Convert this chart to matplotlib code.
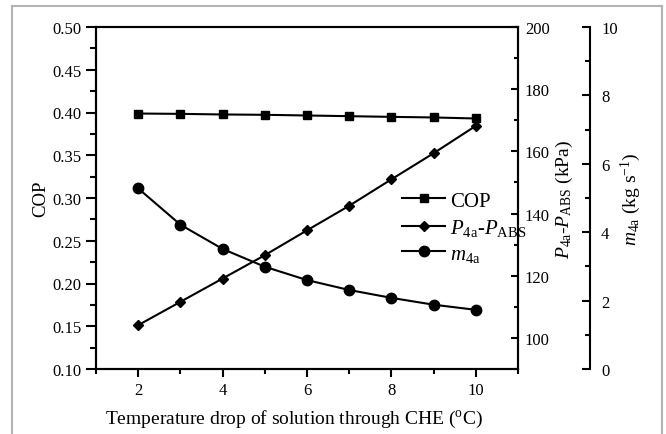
import matplotlib
matplotlib.use('Agg')
import matplotlib.pyplot as plt
from matplotlib.lines import Line2D
from matplotlib.ticker import MultipleLocator, FormatStrFormatter

plt.rcParams['font.family'] = ['Liberation Serif', 'DejaVu Serif']
plt.rcParams['mathtext.fontset'] = 'custom'
plt.rcParams['mathtext.rm'] = 'Liberation Serif'
plt.rcParams['mathtext.it'] = 'Liberation Serif:italic'
plt.rcParams['font.size'] = 12

# dane
temp_drop = [2, 3, 4, 5, 6, 7, 8, 9, 10]
cop = [0.3988, 0.3984, 0.3977, 0.3973, 0.3965, 0.3957, 0.3949, 0.3942, 0.3930]
dp = [104.1, 111.6, 119.1, 126.6, 134.6, 142.5, 151.0, 159.4, 168.2]
m4a = [5.28, 4.22, 3.51, 2.99, 2.60, 2.31, 2.08, 1.88, 1.73]

fig = plt.figure(figsize=(6.66, 4.35), dpi=100)
ax = fig.add_axes([96/666, 1-370/435, 422/666, 342/435])
ax2 = ax.twinx()
ax3 = ax.twinx()
ax3.spines['right'].set_position(('axes', (590-96)/422))

lw = 1.5
l1, = ax.plot(temp_drop, cop, 'k-', marker='s', ms=6, lw=lw, label='COP')
l2, = ax2.plot(temp_drop, dp, 'k-', marker='D', ms=5.5, lw=lw,
               label=r'$P_{\rm 4a}$-$P_{\rm ABS}$')
l3, = ax3.plot(temp_drop, m4a, 'k-', marker='o', ms=7.5, lw=lw,
               label=r'$m_{\rm 4a}$')

ax.set_xlim(1, 11)
ax.set_ylim(0.10, 0.50)
ax2.set_ylim(90, 200)
ax3.set_ylim(0, 10)

ax.xaxis.set_major_locator(MultipleLocator(2))
ax.xaxis.set_minor_locator(MultipleLocator(1))
ax.yaxis.set_major_locator(MultipleLocator(0.05))
ax.yaxis.set_minor_locator(MultipleLocator(0.025))
ax.yaxis.set_major_formatter(FormatStrFormatter('%.2f'))
ax2.yaxis.set_major_locator(MultipleLocator(20))
ax2.yaxis.set_minor_locator(MultipleLocator(10))
ax3.yaxis.set_major_locator(MultipleLocator(2))
ax3.yaxis.set_minor_locator(MultipleLocator(1))

for a in (ax, ax2, ax3):
    for s in a.spines.values():
        s.set_linewidth(1.5)

ax.tick_params(axis='x', which='major', direction='out', length=6, width=1.5, top=False)
ax.tick_params(axis='x', which='minor', direction='out', length=3.5, width=1.5, top=False)
ax.tick_params(axis='y', which='major', direction='out', length=7, width=1.5, right=False)
ax.tick_params(axis='y', which='minor', direction='out', length=4, width=1.5, right=False)
ax2.tick_params(axis='y', which='major', direction='in', length=5, width=1.5, pad=5)
ax2.tick_params(axis='y', which='minor', direction='in', length=3, width=1.5)
ax3.tick_params(axis='y', which='major', direction='in', length=6, width=1.5, pad=8)
ax3.tick_params(axis='y', which='minor', direction='in', length=3.5, width=1.5)

ax3.spines['top'].set_visible(False)
ax3.spines['bottom'].set_visible(False)
ax3.spines['left'].set_visible(False)

ax.set_xlabel(r'Temperature drop of solution through CHE ($^{\rm o}$C)', fontsize=14)
ax.xaxis.set_label_coords(0.47, -0.115)
ax.set_ylabel('COP', fontsize=13.5, labelpad=2)
ax2.set_ylabel(r'$P_{\rm 4a}$-$P_{\rm ABS}$ (kPa)', fontsize=14, labelpad=3)
ax3.set_ylabel(r'$m_{\rm 4a}$ (kg s$^{-1}$)', fontsize=14, labelpad=1)

ax.legend(handles=[l1, l2, l3], loc='upper left', bbox_to_anchor=(0.68, 0.575),
          frameon=False, fontsize=15, handlelength=2.1, handletextpad=0.2,
          labelspacing=0.3)

# szara ramka
c = '#b4b4b4'
fig.add_artist(Line2D([12/666, 12/666], [0, 1-7/435], color=c, lw=1.5))
fig.add_artist(Line2D([662/666, 662/666], [0, 1-7/435], color=c, lw=1.5))
fig.add_artist(Line2D([12/666, 662/666], [1-7/435, 1-7/435], color=c, lw=1.5))

fig.savefig('out.png', dpi=100)
